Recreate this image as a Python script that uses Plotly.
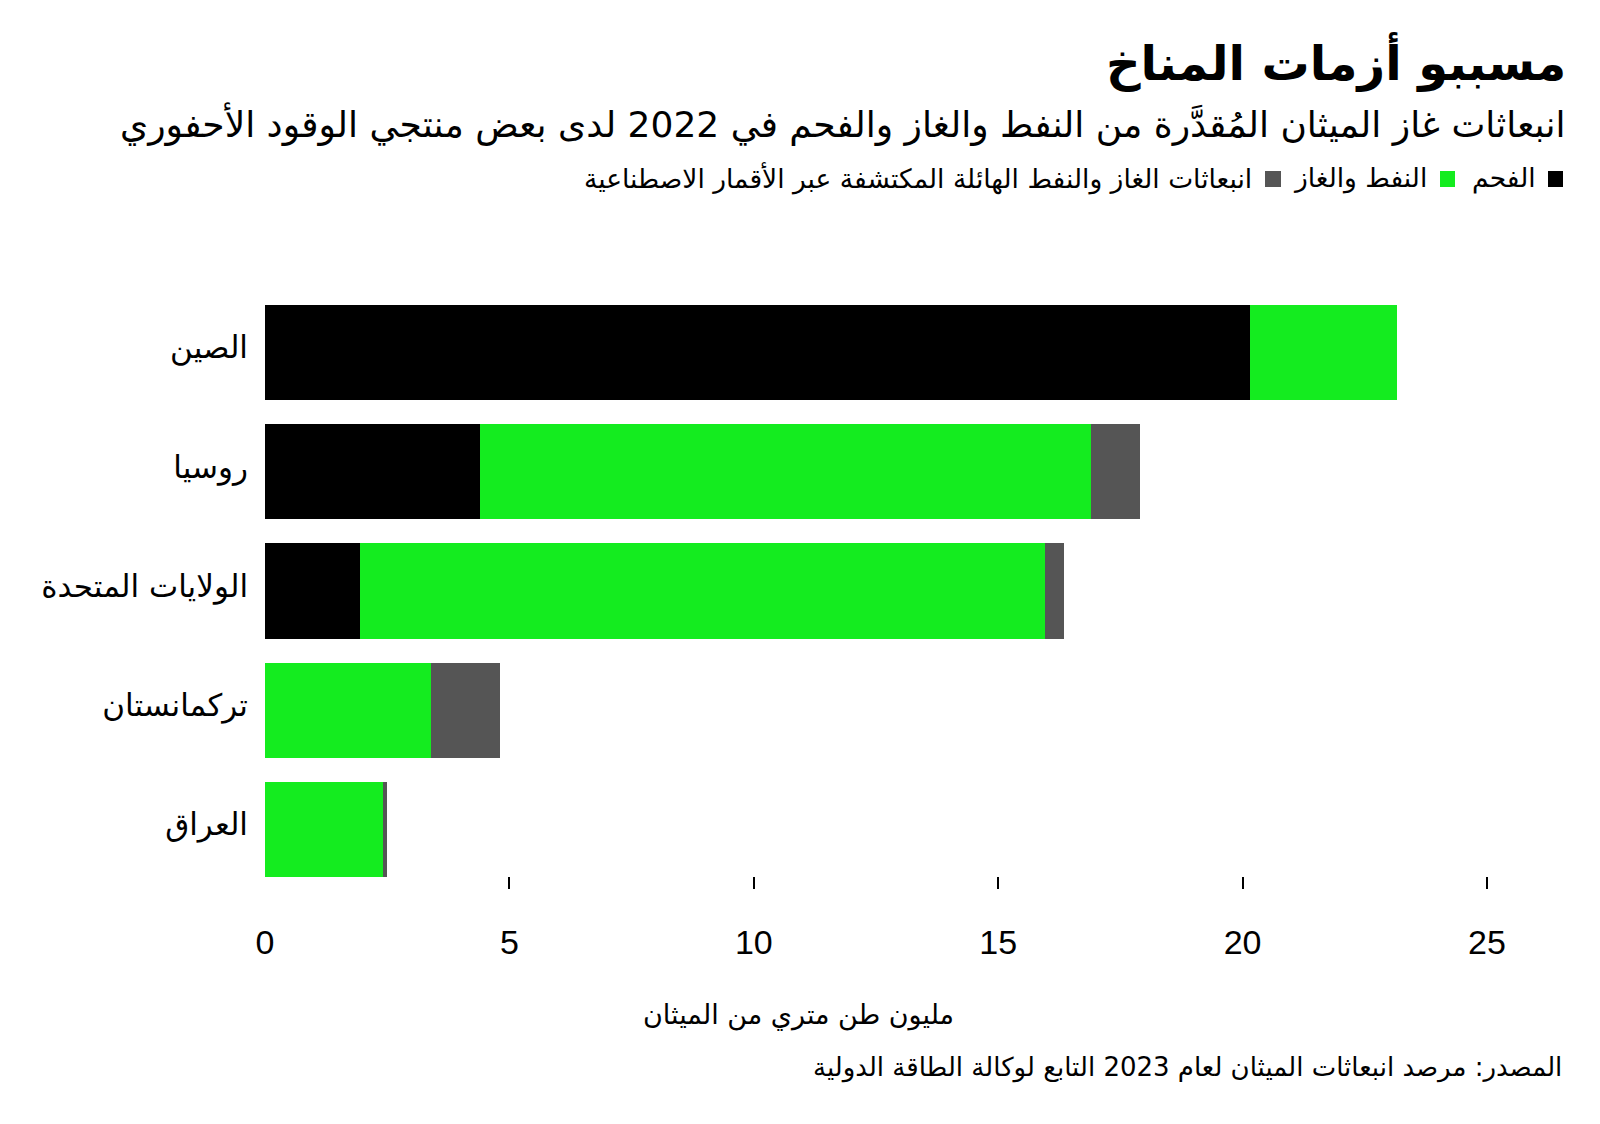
import plotly.graph_objects as go

W, H = 1600, 1124

countries = ["الصين", "روسيا", "الولايات المتحدة", "تركمانستان", "العراق"]
coal = [20.15, 4.4, 1.95, 0, 0]
oil_gas = [3.0, 12.5, 14.0, 3.4, 2.42]
super_emitters = [0, 1.0, 0.4, 1.4, 0.07]

series_names = ["الفحم", "النفط والغاز", "انبعاثات الغاز والنفط الهائلة المكتشفة عبر الأقمار الاصطناعية"]
series_colors = ["#000000", "#14EC1F", "#555555"]
tick_vals = [0, 5, 10, 15, 20, 25]
tick_marks = [5, 10, 15, 20, 25]

title = "مسببو أزمات المناخ"
subtitle = "انبعاثات غاز الميثان المُقدَّرة من النفط والغاز والفحم في 2022 لدى بعض منتجي الوقود الأحفوري"
x_title = "مليون طن متري من الميثان"
source = "المصدر: مرصد انبعاثات الميثان لعام 2023 التابع لوكالة الطاقة الدولية"

AR = "DejaVu Sans"
NUM = "Liberation Sans"

def px(x):
    return x / W

def py(y):
    return 1 - y / H

fig = go.Figure()
for name, vals, col in zip(series_names, [coal, oil_gas, super_emitters], series_colors):
    fig.add_trace(go.Bar(
        y=countries, x=vals, orientation="h", name=name,
        marker=dict(color=col, line=dict(width=0)), showlegend=False,
    ))

annotations = [
    dict(text="<b>" + title + "</b>", x=px(1568), y=py(62), xanchor="right", yanchor="middle",
         font=dict(family=AR, size=48, color="#000")),
    dict(text=subtitle, x=px(1567), y=py(124), xanchor="right", yanchor="middle",
         font=dict(family=AR, size=36, color="#000")),
    dict(text=x_title, x=px(798), y=py(1015), xanchor="center", yanchor="middle",
         font=dict(family=AR, size=27, color="#000")),
    dict(text=source, x=px(1564), y=py(1067), xanchor="right", yanchor="middle",
         font=dict(family=AR, size=26, color="#000")),
]
shapes = []
legend_sq = [(1548, 1563), (1440, 1455), (1265, 1281)]
legend_txt_right = [1538, 1429, 1254]
for (x0, x1), xr, name, col in zip(legend_sq, legend_txt_right, series_names, series_colors):
    shapes.append(dict(type="rect", xref="paper", yref="paper", x0=px(x0), x1=px(x1),
                       y0=py(187), y1=py(171), fillcolor=col, line=dict(width=0)))
    annotations.append(dict(text=name, x=px(xr), y=py(178), xanchor="right", yanchor="middle",
                            font=dict(family=AR, size=26.5, color="#000")))
for a in annotations:
    a.update(xref="paper", yref="paper", showarrow=False)

fig.update_layout(
    width=W, height=H, margin=dict(l=0, r=0, t=0, b=0),
    paper_bgcolor="white", plot_bgcolor="white",
    barmode="stack", bargap=0.2,
    xaxis=dict(domain=[px(265), px(265 + 26 * 48.88)], range=[0, 26], automargin=False,
               tickvals=tick_vals, ticks="",
               minor=dict(tickvals=tick_marks, ticks="inside", ticklen=12, tickwidth=2,
                          tickcolor="#000", showgrid=False),
               showgrid=False, zeroline=False, showline=False,
               ticklabelstandoff=30,
               tickfont=dict(family=NUM, size=34, color="#000")),
    yaxis=dict(domain=[py(889), py(293)], categoryorder="array", automargin=False,
               categoryarray=countries[::-1], showgrid=False, zeroline=False,
               showline=False, ticks="", ticklabelstandoff=16, ticklabelshift=-5,
               tickfont=dict(family=AR, size=31, color="#000")),
    annotations=annotations, shapes=shapes,
)

fig.write_html("out.html")
